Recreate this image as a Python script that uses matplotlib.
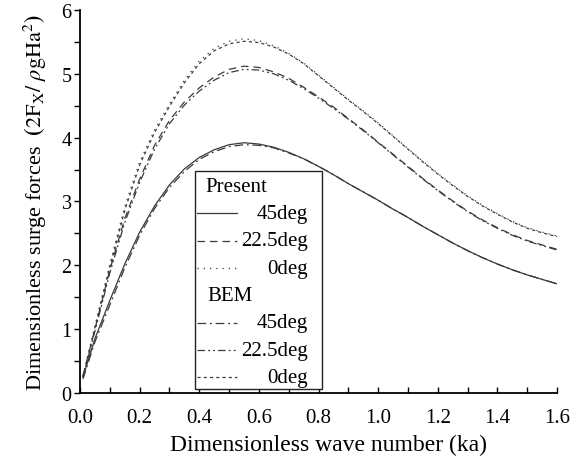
import matplotlib
matplotlib.use("Agg")
import matplotlib.pyplot as plt
from matplotlib.lines import Line2D
from matplotlib.patches import Rectangle
from matplotlib.ticker import MultipleLocator, FormatStrFormatter

plt.rcParams['font.family'] = ['Liberation Serif', 'DejaVu Serif']
plt.rcParams['mathtext.fontset'] = 'stix'

# wave number (ka) and dimensionless surge force for each heading
ka = [0.01, 0.05, 0.10, 0.15, 0.20, 0.25, 0.30, 0.35, 0.40, 0.45, 0.50,
      0.55, 0.60, 0.65, 0.70, 0.75, 0.80, 0.85, 0.90, 0.95, 1.00,
      1.05, 1.10, 1.15, 1.20, 1.25, 1.30, 1.35, 1.40, 1.45, 1.50, 1.55, 1.60]

present_45 = [0.25, 0.85, 1.45, 2.02, 2.52, 2.93, 3.26, 3.51, 3.69, 3.81, 3.89,
              3.92, 3.90, 3.85, 3.77, 3.67, 3.55, 3.42, 3.28, 3.15, 3.02,
              2.88, 2.75, 2.61, 2.48, 2.35, 2.23, 2.12, 2.02, 1.93, 1.85, 1.78, 1.71]
present_225 = [0.27, 1.00, 1.93, 2.73, 3.35, 3.88, 4.27, 4.56, 4.78, 4.95, 5.07,
               5.12, 5.10, 5.03, 4.93, 4.79, 4.64, 4.48, 4.30, 4.12, 3.93,
               3.74, 3.55, 3.36, 3.18, 3.01, 2.85, 2.71, 2.59, 2.48, 2.39, 2.32, 2.25]
present_0 = [0.27, 1.05, 2.02, 2.92, 3.62, 4.12, 4.53, 4.90, 5.20, 5.40, 5.51,
             5.55, 5.52, 5.44, 5.32, 5.17, 4.98, 4.79, 4.60, 4.42, 4.23,
             4.03, 3.83, 3.63, 3.44, 3.26, 3.09, 2.94, 2.81, 2.69, 2.59, 2.52, 2.46]

bem_45 = [0.22, 0.80, 1.38, 1.96, 2.47, 2.89, 3.22, 3.47, 3.66, 3.78, 3.86,
          3.89, 3.88, 3.84, 3.76, 3.67, 3.55, 3.42, 3.28, 3.15, 3.02,
          2.88, 2.75, 2.61, 2.48, 2.35, 2.23, 2.12, 2.02, 1.93, 1.85, 1.78, 1.71]
bem_225 = [0.25, 0.97, 1.88, 2.67, 3.30, 3.82, 4.22, 4.51, 4.73, 4.90, 5.02,
           5.07, 5.06, 5.00, 4.90, 4.77, 4.62, 4.46, 4.29, 4.11, 3.92,
           3.73, 3.54, 3.35, 3.17, 3.00, 2.84, 2.70, 2.58, 2.47, 2.38, 2.31, 2.24]
bem_0 = [0.25, 1.02, 1.97, 2.86, 3.57, 4.08, 4.49, 4.86, 5.16, 5.36, 5.47,
         5.51, 5.49, 5.42, 5.31, 5.16, 4.97, 4.78, 4.59, 4.41, 4.22,
         4.02, 3.82, 3.62, 3.43, 3.25, 3.08, 2.93, 2.80, 2.68, 2.58, 2.51, 2.45]

headings = ['45deg', '22.5deg', '0deg']

lc = '#3a3a3a'
lw = 0.9
present_styles = ['-', (0, (6, 4)), (0, (1, 4))]
bem_styles = [(0, (7, 3, 1.5, 3)), (0, (6, 2.5, 1.5, 2.5, 1.5, 2.5)), (0, (2.5, 2.5))]

fig = plt.figure(figsize=(5.82, 4.6), dpi=100)
ax = fig.add_axes([0.1375, 0.1435, 0.8196, 0.8326])

present = [present_45, present_225, present_0]
bem = [bem_45, bem_225, bem_0]
for vals, ls in zip(present, present_styles):
    ax.plot(ka, vals, color=lc, lw=lw, linestyle=ls)
for vals, ls in zip(bem, bem_styles):
    ax.plot(ka, vals, color=lc, lw=lw, linestyle=ls)

ax.set_xlim(0, 1.6)
ax.set_ylim(0, 6)
ax.xaxis.set_major_locator(MultipleLocator(0.2))
ax.xaxis.set_minor_locator(MultipleLocator(0.1))
ax.xaxis.set_major_formatter(FormatStrFormatter('%.1f'))
ax.yaxis.set_major_locator(MultipleLocator(1))
ax.yaxis.set_minor_locator(MultipleLocator(0.5))
ax.tick_params(axis='x', which='both', direction='in', length=4, width=1, labelsize=15, pad=11)
ax.tick_params(axis='y', which='both', direction='out', length=4, width=1, labelsize=14.5, pad=2)
for s in ['top', 'right']:
    ax.spines[s].set_visible(False)
for s in ['left', 'bottom']:
    ax.spines[s].set_linewidth(1.3)

ax.set_xlabel('Dimensionless wave number (ka)', fontsize=17, labelpad=5, x=0.52)
ax.set_ylabel(r'Dimensionless surge forces  $\mathbf{(}2\mathrm{F_X}/\ \rho\mathrm{gHa}^2\mathbf{)}$',
              fontsize=16, labelpad=9)

# hand-built legend box with group headers
ax.add_patch(Rectangle((0.241, 0.0104), 0.266, 0.570, transform=ax.transAxes,
                       facecolor='white', edgecolor='#222222', lw=1.0, zorder=5))
row = 0.0713
y = 0.540
ax.text(0.262, y, 'Present', transform=ax.transAxes, fontsize=15, va='center', zorder=6)
for lab, ls in zip(headings, present_styles):
    y -= row
    ax.add_line(Line2D([0.245, 0.329], [y, y], transform=ax.transAxes,
                       color=lc, lw=lw, linestyle=ls, zorder=6))
    ax.text(0.478, y, lab, transform=ax.transAxes, fontsize=15, ha='right', va='center', zorder=6)
y -= row
ax.text(0.268, y, 'BEM', transform=ax.transAxes, fontsize=15, va='center', zorder=6)
for lab, ls in zip(headings, bem_styles):
    y -= row
    ax.add_line(Line2D([0.245, 0.329], [y, y], transform=ax.transAxes,
                       color=lc, lw=lw, linestyle=ls, zorder=6))
    ax.text(0.478, y, lab, transform=ax.transAxes, fontsize=15, ha='right', va='center', zorder=6)

fig.savefig('out.png', dpi=100)
